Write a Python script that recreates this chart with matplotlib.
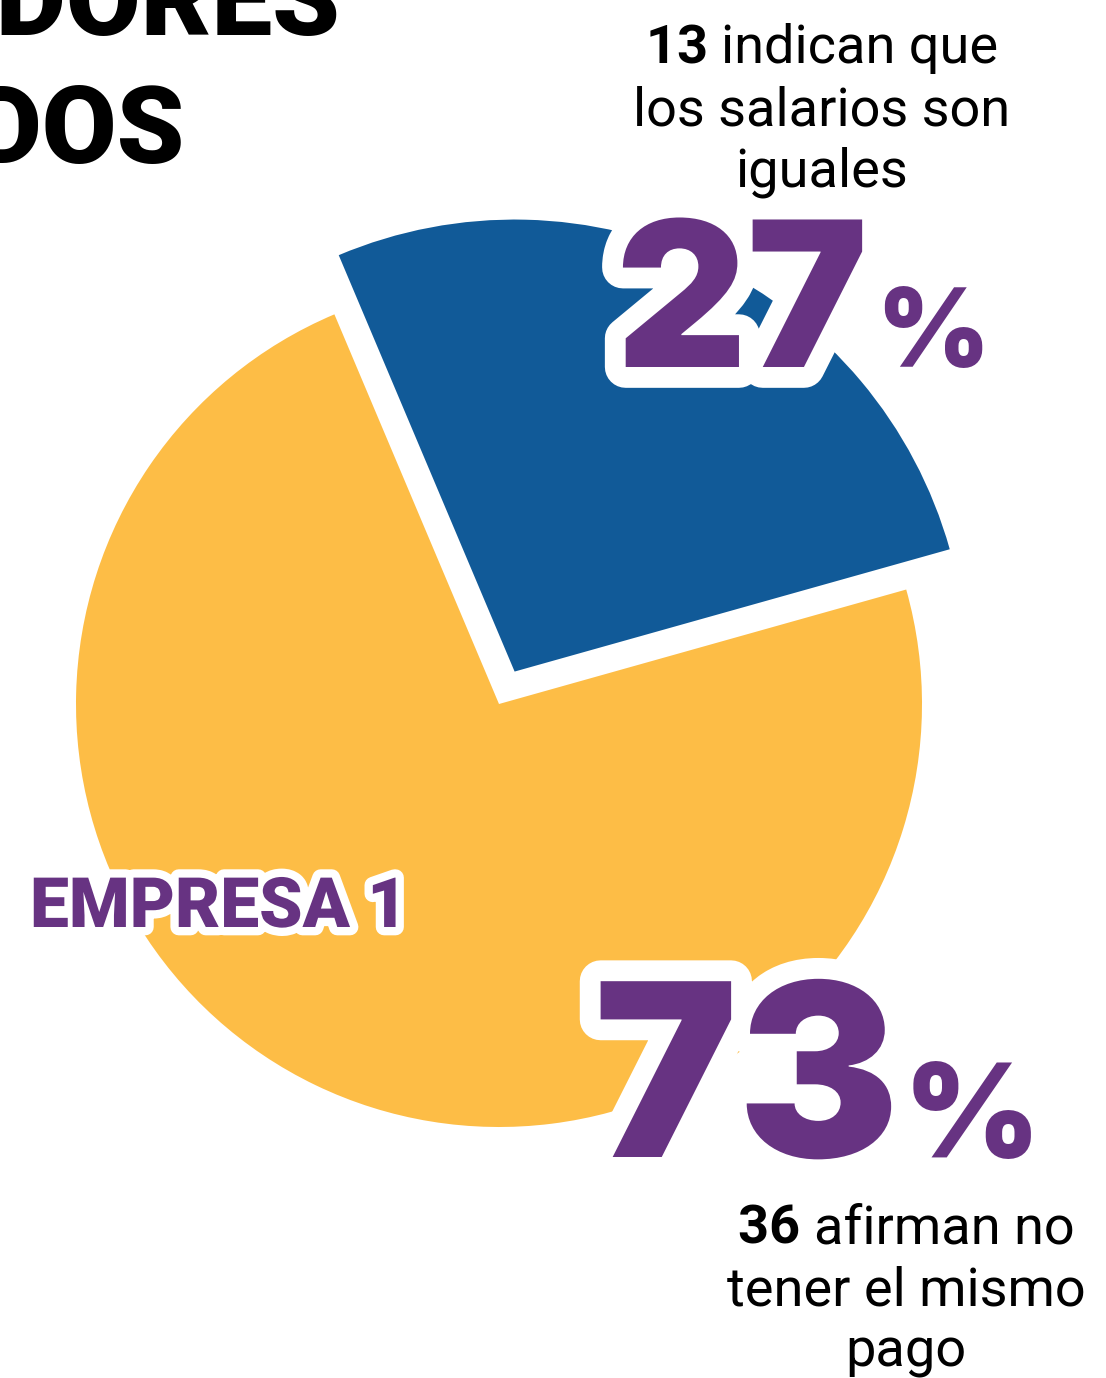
import matplotlib
matplotlib.use('Agg')
import matplotlib.pyplot as plt
import matplotlib.patheffects as pe

# datos
categorias = ['Salarios iguales', 'No tienen el mismo pago']
porcentajes = [27, 73]
conteos = [13, 36]
textos = ['indican que\nlos salarios son\niguales', 'afirman no\ntener el mismo\npago']
etiqueta_empresa = 'EMPRESA 1'
titulo = ['TRABAJADORES', 'ENCUESTADOS']

AZUL = '#115A98'
AMARILLO = '#FDBD46'
MORADO = '#673382'

W, H = 1106, 1378
fig = plt.figure(figsize=(W / 100, H / 100), dpi=100)
ax = fig.add_axes([0, 0, 1, 1])

def py(y):
    # coordenada y medida desde arriba, en pixeles
    return H - y

wedges, _ = ax.pie(porcentajes, colors=[AZUL, AMARILLO], startangle=112.9,
                   counterclock=False, radius=423, center=(499, py(704)),
                   explode=[36, 0], frame=False)
wedges[0].set_radius(452)

ax.set_xlim(0, W)
ax.set_ylim(0, H)
ax.axis('off')

FNUM = 'Inter'
FTXT = 'Roboto'
borde = lambda lw: [pe.Stroke(linewidth=lw, foreground='white'), pe.Normal()]

# titulo cortado
ax.text(340, py(35), titulo[0], ha='right', va='baseline', fontsize=78,
        fontweight='black', family=FTXT, color='black')
ax.text(185, py(163), titulo[1], ha='right', va='baseline', fontsize=78,
        fontweight='black', family=FTXT, color='black')

# porcentajes grandes
ax.text(616, py(367), f'{porcentajes[0]}', ha='left', va='baseline', fontsize=146,
        fontweight='black', family=FNUM, color=MORADO, path_effects=borde(30))
ax.text(876, py(367), '%', ha='left', va='baseline', fontsize=78,
        fontweight='black', family=FNUM, color=MORADO)
ax.text(594, py(1157), f'{porcentajes[1]}', ha='left', va='baseline', fontsize=174,
        fontweight='black', family=FNUM, color=MORADO, path_effects=borde(30))
ax.text(904, py(1157), '%', ha='left', va='baseline', fontsize=94,
        fontweight='black', family=FNUM, color=MORADO)

ax.text(30, py(927), etiqueta_empresa, ha='left', va='baseline', fontsize=50,
        fontweight='black', family=FTXT, color=MORADO, path_effects=borde(12))

# anotaciones con numero en negrita
fig.canvas.draw()
r = fig.canvas.get_renderer()

def anotar(cx, y0, num, texto, fs=39, paso=62):
    lineas = texto.split('\n')
    for i, lin in enumerate(lineas):
        y = py(y0 + i * paso)
        if i == 0:
            tb = ax.text(0, y, f'{num} ', ha='left', va='baseline', fontsize=fs,
                         fontweight='bold', family=FTXT, color='black')
            tr = ax.text(0, y, lin, ha='left', va='baseline', fontsize=fs,
                         family=FTXT, color='black')
            wb = tb.get_window_extent(r).width
            wr = tr.get_window_extent(r).width
            x0 = cx - (wb + wr) / 2
            tb.set_x(x0)
            tr.set_x(x0 + wb)
        else:
            ax.text(cx, y, lin, ha='center', va='baseline', fontsize=fs,
                    family=FTXT, color='black')

anotar(822, 63, conteos[0], textos[0])
anotar(906, 1243, conteos[1], textos[1])

fig.savefig('out.png', dpi=100)
plt.close(fig)
